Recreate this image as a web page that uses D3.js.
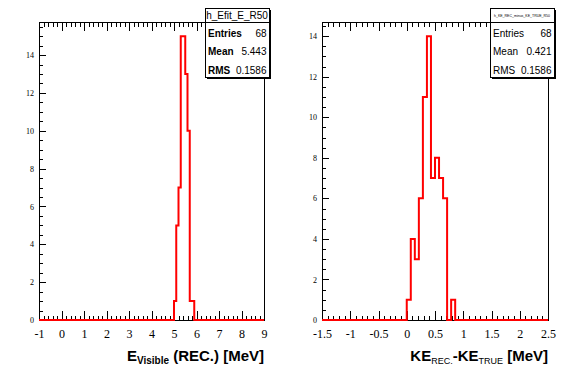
<!DOCTYPE html>
<html>
<head>
<meta charset="utf-8">
<script src="https://cdn.jsdelivr.net/npm/d3@7"></script>
<style>
  html, body { margin: 0; padding: 0; background: #fff; }
  svg { display: block; }
  .serif text { font-family: "Liberation Serif", "DejaVu Serif", serif; }
</style>
</head>
<body>
<svg id="chart" width="567" height="384"></svg>
<script>
// ---------------- data ----------------
const leftRange = [-1, 9];
const leftBinWidth = 0.1;
const leftFirstEdge = 5.0;
const leftCounts = [1, 5, 7, 15, 15, 13, 10, 1, 1];
const leftXTicks = [-1, 0, 1, 2, 3, 4, 5, 6, 7, 8, 9];
const leftYMax = 15.75;

const rightRange = [-1.5, 2.5];
const rightBinWidth = 4 / 56;
const rightFirstEdge = 0.0;
const rightCounts = [1, 4, 3, 6, 11, 14, 7, 8, 7, 6, 0, 1];
const rightXTicks = [-1.5, -1, -0.5, 0, 0.5, 1, 1.5, 2, 2.5];
const rightYMax = 14.7;

const yTicks = [0, 2, 4, 6, 8, 10, 12, 14];

const leftStats = { title: "h_Efit_E_R50", rows: [["Entries", "68"], ["Mean", "5.443"], ["RMS", "0.1586"]] };
const rightStats = { title: "h_KE_REC_minus_KE_TRUE_R50", rows: [["Entries", "68"], ["Mean", "0.421"], ["RMS", "0.1586"]] };

// ---------------- drawing ----------------
const svg = d3.select("#chart");
svg.append("rect").attr("width", 567).attr("height", 384).attr("fill", "#fff");

function fmt(v) { return String(v); }
const SERIF = "'Liberation Serif', 'DejaVu Serif', serif";
const SANS = "'Liberation Sans', Arial, sans-serif";

function panel(cfg) {
  const { x0, x1, y0, y1 } = cfg;
  const x = d3.scaleLinear().domain(cfg.range).range([x0, x1]);
  const y = d3.scaleLinear().domain([0, cfg.yMax]).range([y1, y0]);
  const g = svg.append("g");

  // frame
  g.append("rect").attr("x", x0).attr("y", y0).attr("width", x1 - x0).attr("height", y1 - y0)
    .attr("fill", "none").attr("stroke", "#000").attr("stroke-width", 1).attr("shape-rendering", "crispEdges");

  const xMinor = [];
  for (let i = 0; i < cfg.xTicks.length - 1; i++) {
    const a = cfg.xTicks[i], b = cfg.xTicks[i + 1];
    for (let k = 1; k < 5; k++) xMinor.push(a + (b - a) * k / 5);
  }
  const yMinor = [];
  for (let v = 0.5; v <= cfg.yMax; v += 0.5) if (Math.abs(v % 2) > 1e-9) yMinor.push(v);

  const styleAxis = sel => {
    sel.attr("font-family", SERIF);
    sel.select(".domain").remove();
    sel.selectAll("line").attr("stroke", "#000").attr("shape-rendering", "crispEdges");
    sel.selectAll("text").attr("fill", "#000").style("font-family", SERIF);
  };

  g.append("g").attr("class", "serif").attr("transform", `translate(0,${y1})`)
    .call(d3.axisBottom(x).tickValues(cfg.xTicks).tickFormat(fmt).tickSizeInner(-9).tickSizeOuter(0).tickPadding(9))
    .call(styleAxis)
    .call(s => s.selectAll("text").style("font-size", "12px"));
  g.append("g").attr("transform", `translate(0,${y1})`)
    .call(d3.axisBottom(x).tickValues(xMinor).tickFormat("").tickSizeInner(-4.5).tickSizeOuter(0))
    .call(styleAxis);
  g.append("g").attr("transform", `translate(0,${y0})`)
    .call(d3.axisTop(x).tickValues(cfg.xTicks).tickFormat("").tickSizeInner(-9).tickSizeOuter(0))
    .call(styleAxis);
  g.append("g").attr("transform", `translate(0,${y0})`)
    .call(d3.axisTop(x).tickValues(xMinor).tickFormat("").tickSizeInner(-4.5).tickSizeOuter(0))
    .call(styleAxis);
  g.append("g").attr("class", "serif").attr("transform", `translate(${x0},0)`)
    .call(d3.axisLeft(y).tickValues(yTicks).tickFormat(fmt).tickSizeInner(-7).tickSizeOuter(0).tickPadding(5))
    .call(styleAxis)
    .call(s => s.selectAll("text").style("font-size", "8px"));
  g.append("g").attr("transform", `translate(${x0},0)`)
    .call(d3.axisLeft(y).tickValues(yMinor).tickFormat("").tickSizeInner(-3.5).tickSizeOuter(0))
    .call(styleAxis);

  // histogram outline
  const pts = [[cfg.range[0], 0], [cfg.firstEdge, 0]];
  cfg.counts.forEach((c, i) => {
    const a = cfg.firstEdge + i * cfg.binWidth, b = a + cfg.binWidth;
    pts.push([a, c], [b, c]);
  });
  const lastEdge = cfg.firstEdge + cfg.counts.length * cfg.binWidth;
  pts.push([lastEdge, 0], [cfg.range[1], 0]);
  const line = d3.line().x(d => x(d[0])).y(d => y(d[1]));
  g.append("path").attr("d", line(pts)).attr("fill", "none").attr("stroke", "#ff0000")
    .attr("stroke-width", 2).attr("stroke-linejoin", "miter");

  // axis title
  const t = g.append("text").attr("x", x1).attr("y", 361).attr("text-anchor", "end")
    .attr("font-family", SANS).attr("font-weight", "bold")
    .attr("font-size", 15).attr("fill", "#000");
  cfg.title.forEach(part => {
    const ts = t.append("tspan").text(part.t);
    if (part.sub) ts.attr("font-size", part.size || 10).attr("dy", 3).attr("font-weight", part.w || "bold");
    else if (part.after) ts.attr("dy", -3).attr("font-size", 15);
  });

  // stats box
  const sb = cfg.stats, bx = cfg.statX, by = 8, bw = 64, bh = 69;
  g.append("rect").attr("x", bx + 2).attr("y", by + 2).attr("width", bw).attr("height", bh).attr("fill", "#000");
  g.append("rect").attr("x", bx).attr("y", by).attr("width", bw).attr("height", bh).attr("fill", "#fff")
    .attr("stroke", "#000").attr("stroke-width", 1).attr("shape-rendering", "crispEdges");
  g.append("line").attr("x1", bx).attr("x2", bx + bw).attr("y1", by + 14.5).attr("y2", by + 14.5)
    .attr("stroke", "#000").attr("shape-rendering", "crispEdges");
  const tt = g.append("text").attr("x", bx + bw / 2).attr("y", cfg.statTitleY).attr("text-anchor", "middle")
    .attr("font-family", SANS).attr("font-size", cfg.statTitleSize)
    .attr("fill", "#000").text(sb.title);
  if (cfg.statTitleLen) tt.attr("textLength", cfg.statTitleLen).attr("lengthAdjust", "spacingAndGlyphs");
  sb.rows.forEach((r, i) => {
    const yy = by + 29 + i * 18.3;
    g.append("text").attr("x", bx + 3).attr("y", yy).attr("font-family", SANS)
      .attr("font-size", 10).attr("font-weight", cfg.statLabelWeight).attr("fill", "#000").text(r[0]);
    g.append("text").attr("x", bx + bw - 2.5).attr("y", yy).attr("text-anchor", "end")
      .attr("font-family", SANS).attr("font-size", 10).attr("fill", "#000").text(r[1]);
  });
}

panel({
  x0: 39, x1: 264, y0: 22, y1: 320, range: leftRange, yMax: leftYMax, xTicks: leftXTicks,
  firstEdge: leftFirstEdge, binWidth: leftBinWidth, counts: leftCounts,
  title: [{ t: "E" }, { t: "Visible", sub: true, size: 10, w: "bold" }, { t: " (REC.) [MeV]", after: true }],
  stats: leftStats, statX: 205, statTitleY: 18.5, statTitleSize: 10, statLabelWeight: "bold"
});

panel({
  x0: 322, x1: 548, y0: 22, y1: 320, range: rightRange, yMax: rightYMax, xTicks: rightXTicks,
  firstEdge: rightFirstEdge, binWidth: rightBinWidth, counts: rightCounts,
  title: [{ t: "KE" }, { t: "REC.", sub: true, size: 9, w: "normal" }, { t: "-KE", after: true },
          { t: "TRUE", sub: true, size: 9, w: "normal" }, { t: " [MeV]", after: true }],
  stats: rightStats, statX: 490, statTitleY: 17, statTitleSize: 4, statTitleLen: 56, statLabelWeight: "normal"
});
</script>
</body>
</html>
